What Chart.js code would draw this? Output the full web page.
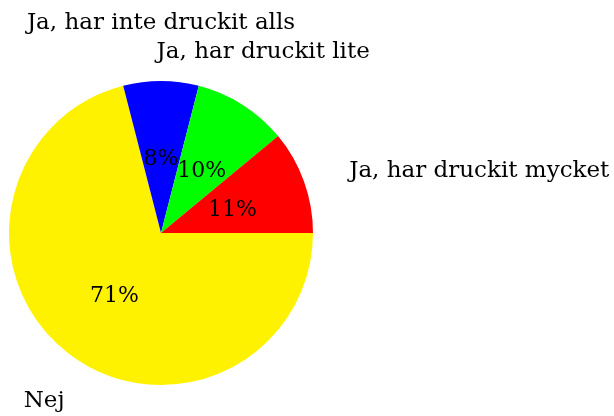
<!DOCTYPE html>
<html>
<head>
<meta charset="utf-8">
<script src="https://cdn.jsdelivr.net/npm/chart.js@4.4.0/dist/chart.umd.min.js"></script>
<style>
  html, body { margin: 0; padding: 0; background: #fff; }
  canvas { display: block; }
</style>
</head>
<body>
<canvas id="pie" width="614" height="416"></canvas>
<script>
// ---------- Data ----------
const categories = ['Ja, har druckit mycket', 'Ja, har druckit lite', 'Ja, har inte druckit alls', 'Nej'];
const shares = [11, 10, 8, 71];

// slices run counter-clockwise from east in the original, Chart.js goes clockwise -> flip
const drawOrder = categories.map((_, i) => i).reverse();
const sliceColors = ['#ff0000', '#00ff00', '#0000ff', '#fff200'];

const labelFont = '23px "DejaVu Serif"';
const pctFont = '22px "DejaVu Serif"';
const LABEL_RADIUS = 1.255;   // outside labels, in units of the pie radius
const PCT_RADIUS = 0.5;
const INNER_SEP = 8.7;
const BOX_ASC = 18, BOX_DESC = 5;   // text box height/depth used for anchoring

// ---------- Labels plugin ----------
const sliceLabels = {
  id: 'sliceLabels',
  afterDatasetsDraw(chart) {
    const ctx = chart.ctx;
    const arcs = chart.getDatasetMeta(0).data;
    ctx.save();
    ctx.fillStyle = '#000';
    arcs.forEach((arc, i) => {
      const idx = drawOrder[i];
      const { x, y, startAngle, endAngle, outerRadius } =
        arc.getProps(['x', 'y', 'startAngle', 'endAngle', 'outerRadius'], true);
      const mid = (startAngle + endAngle) / 2;
      const c = Math.cos(mid), s = Math.sin(mid);

      // percentage in the middle of the slice
      ctx.font = pctFont;
      ctx.textAlign = 'center';
      ctx.textBaseline = 'alphabetic';
      const pct = shares[idx] + '%';
      const m = ctx.measureText(pct);
      ctx.fillText(pct,
        x + c * outerRadius * PCT_RADIUS,
        y + s * outerRadius * PCT_RADIUS + (m.actualBoundingBoxAscent - m.actualBoundingBoxDescent) / 2);

      // category name outside, anchored by compass direction
      ctx.font = labelFont;
      const px = x + c * outerRadius * LABEL_RADIUS;
      const py = y + s * outerRadius * LABEL_RADIUS;
      const deg = (((-mid * 180 / Math.PI) % 360) + 360) % 360;
      const text = categories[idx];
      if (deg >= 45 && deg < 135) {
        ctx.textAlign = 'center';
        ctx.fillText(text, px, py - INNER_SEP - BOX_DESC);
      } else if (deg >= 135 && deg < 225) {
        ctx.textAlign = 'right';
        ctx.fillText(text, px - INNER_SEP, py + (BOX_ASC - BOX_DESC) / 2 + 2);
      } else if (deg >= 225 && deg < 315) {
        ctx.textAlign = 'center';
        ctx.fillText(text, px, py + INNER_SEP + BOX_ASC - 3);
      } else {
        ctx.textAlign = 'left';
        ctx.fillText(text, px + INNER_SEP, py + (BOX_ASC - BOX_DESC) / 2 + 2);
      }
    });
    ctx.restore();
  }
};

// ---------- Chart ----------
new Chart(document.getElementById('pie'), {
  type: 'pie',
  data: {
    labels: drawOrder.map(i => categories[i]),
    datasets: [{
      data: drawOrder.map(i => shares[i]),
      backgroundColor: drawOrder.map(i => sliceColors[i]),
      borderWidth: 0,
      hoverOffset: 0
    }]
  },
  options: {
    responsive: false,
    animation: false,
    rotation: 90,
    layout: { padding: { left: 9, top: 81, right: 301, bottom: 31 } },
    plugins: {
      legend: { display: false },
      tooltip: { enabled: false }
    }
  },
  plugins: [sliceLabels]
});
</script>
</body>
</html>
